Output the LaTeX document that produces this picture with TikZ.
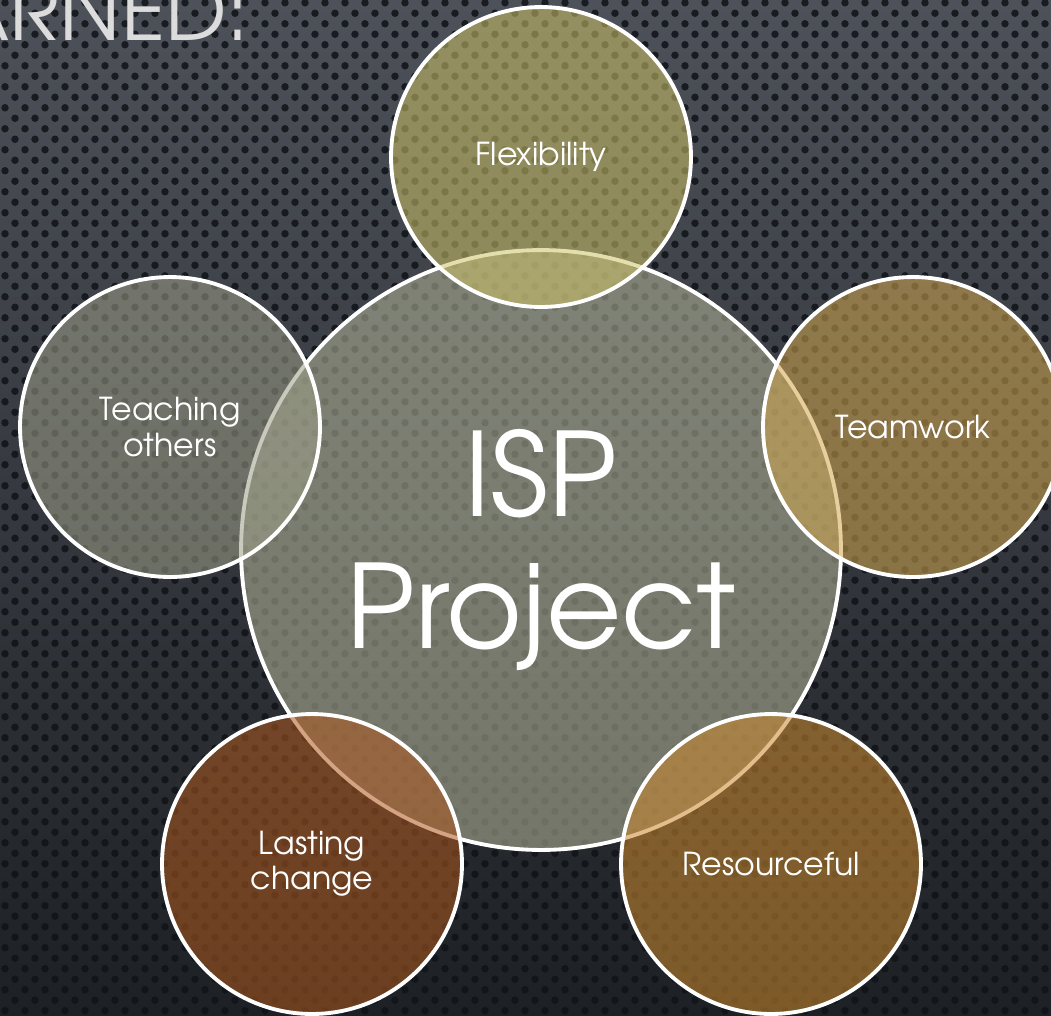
\documentclass[tikz,border=0pt]{standalone}
\usepackage{fontspec}
\setmainfont{texgyreadventor-regular.otf}
\usetikzlibrary{patterns}

\definecolor{bgtop}{HTML}{4D5159}
\definecolor{bgbottom}{HTML}{1D2024}
\definecolor{dotcol}{HTML}{101318}
\definecolor{titlegray}{HTML}{DCDCDC}
\definecolor{projectfill}{HTML}{AAAB93}
\definecolor{flexfill}{HTML}{CEC368}
\definecolor{teachfill}{HTML}{9D9E88}
\definecolor{teamfill}{HTML}{D2A74E}
\definecolor{resfill}{HTML}{CD8A2E}
\definecolor{lastfill}{HTML}{AF591F}

\pgfdeclarepatternformonly{perforated}{\pgfpointorigin}{\pgfpoint{0.4cm}{0.42cm}}{\pgfpoint{0.4cm}{0.42cm}}{
	\pgfpathcircle{\pgfpoint{0.1cm}{0.105cm}}{0.075cm}
	\pgfpathcircle{\pgfpoint{0.3cm}{0.315cm}}{0.075cm}
	\pgfusepath{fill}
}

\tikzset{
	bubble/.style={circle,draw=white,line width=2.2pt,minimum size=6cm,inner sep=0pt,
		fill opacity=.55,text opacity=1,text=white,align=center,
		font=\fontsize{18}{20}\selectfont},
	hub/.style={bubble,minimum size=12cm,fill opacity=.6,
		font=\fontsize{66}{75}\selectfont}
}

\begin{document}
\begin{tikzpicture}[x=0.02cm,y=-0.02cm]
	\useasboundingbox (0,0) rectangle (1051,1015);
	\clip (0,0) rectangle (1051,1015);
	% backdrop
	\shade[top color=bgtop,bottom color=bgbottom] (0,0) rectangle (1051,1015);
	\fill[pattern=perforated,pattern color=dotcol,opacity=.85] (0,0) rectangle (1051,1015);
	\node[anchor=base east,inner sep=0pt,text=titlegray,font=\fontsize{47}{47}\selectfont] (title) at (250,40) {LEARNED:};
	% center
	\node[hub,fill=projectfill] (isp) at (541,550) {ISP\\Project};
	% outer circles
	\node[bubble,fill=flexfill] (flex) at (541,157) {Flexibility};
	\node[bubble,fill=teachfill] (teach) at (170,427) {Teaching\\others};
	\node[bubble,fill=teamfill] (team) at (913,427) {Teamwork};
	\node[bubble,fill=lastfill] (last) at (312,864) {Lasting\\change};
	\node[bubble,fill=resfill] (res) at (771,864) {Resourceful};
\end{tikzpicture}
\end{document}
